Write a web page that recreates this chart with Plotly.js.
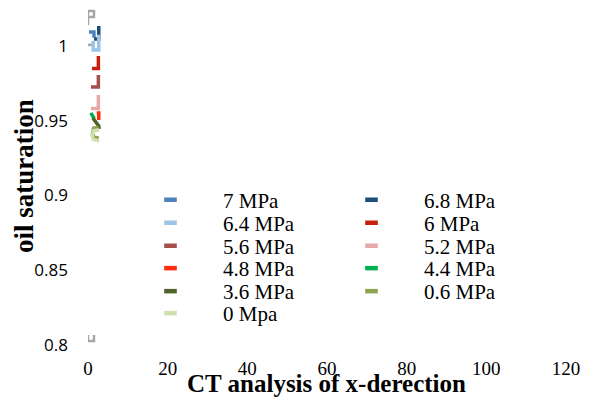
<!DOCTYPE html>
<html>
<head>
<meta charset="utf-8">
<script src="https://cdn.plot.ly/plotly-3.0.1.min.js"></script>
<style>html,body{margin:0;padding:0;background:#fff;}#chart{width:600px;height:401px;}</style>
</head>
<body>
<div id="chart"></div>
<script>
// ---------- data ----------
const seriesNames = ['7 MPa','6.8 MPa','6.4 MPa','6 MPa','5.6 MPa','5.2 MPa','4.8 MPa','4.4 MPa','3.6 MPa','0.6 MPa','0 Mpa'];

const x_7   = [0.25, 1.5, 1.5];            const y_7   = [1.0094, 1.0094, 1.0054];
const x_6_8 = [1.5, 2.7, 2.7];             const y_6_8 = [1.0047, 1.0047, 1.0134];
const x_6_4 = [1.3, 1.3, 2.7, 2.7];        const y_6_4 = [1.0033, 0.9973, 0.9973, 1.0074];
const x_6   = [1.0, 2.6, 2.6];             const y_6   = [0.9849, 0.9849, 0.9933];
const x_5_6 = [0.75, 2.6, 2.6];            const y_5_6 = [0.9726, 0.9726, 0.9806];
const x_5_2 = [0.75, 2.6, 2.6];            const y_5_2 = [0.9582, 0.9582, 0.9672];
const x_4_8 = [2.2, 2.7, 2.7];             const y_4_8 = [0.9552, 0.9552, 0.9505];
const x_4_4 = [0.7, 1.1, 1.6];             const y_4_4 = [0.9552, 0.9532, 0.9512];
const x_3_6 = [1.2, 2.0, 2.7, 2.8];        const y_3_6 = [0.9518, 0.9485, 0.9465, 0.9445];
const x_0_6 = [2.7, 1.4, 1.1, 1.4, 2.7];   const y_0_6 = [0.9455, 0.9450, 0.9415, 0.9390, 0.9385];
const x_0   = [2.8, 1.4, 1.0, 1.3, 2.8];   const y_0   = [0.9440, 0.9432, 0.9405, 0.9375, 0.9365];

// unlabeled grey series (not in legend)
const x_grey = [0, 0, 1.5, 1.5, 0, null, 0, 1.5, null, 0, 0, 1.5, 1.5];
const y_grey = [1.0140, 1.0234, 1.0234, 1.0194, 1.0194, null, 1.0007, 1.0007, null, 0.8067, 0.8027, 0.8027, 0.8067];

const xTickVals = [0, 20, 40, 60, 80, 100, 120];
const yTickVals = [0.8, 0.85, 0.9, 0.95, 1];
const yTickText = ['0.8', '0.85', '0.9', '0.95', '1'];

const xTitle = 'CT analysis of x-derection';
const yTitle = 'oil saturation';

// ---------- styles ----------
const seriesX = [x_7, x_6_8, x_6_4, x_6, x_5_6, x_5_2, x_4_8, x_4_4, x_3_6, x_0_6, x_0];
const seriesY = [y_7, y_6_8, y_6_4, y_6, y_5_6, y_5_2, y_4_8, y_4_4, y_3_6, y_0_6, y_0];
const colors = ['#4F81BD','#1F4E79','#9DC3E6','#C81E0F','#A5504B','#E6A8A8','#FF2D0D','#00B050','#4F6228','#8DA44E','#D0DFB0'];
const legendRowOf = [1,1,2,2,3,3,4,4,5,5,6];
const rowCenters = [200, 223, 246, 268.5, 291.5, 313.5];

const traces = [];
traces.push({x: x_grey, y: y_grey, mode: 'lines', connectgaps: false, showlegend: false,
  line: {color: '#A6A6A6', width: 2.5}, hoverinfo: 'skip'});
for (let i = 0; i < seriesNames.length; i++) {
  traces.push({x: seriesX[i], y: seriesY[i], mode: 'lines', name: seriesNames[i], showlegend: false,
    line: {color: colors[i], width: 3.5}});
}
for (let i = 0; i < seriesNames.length; i++) {
  const r = legendRowOf[i];
  traces.push({x: [null], y: [null], mode: 'markers', name: seriesNames[i],
    legend: r === 1 ? 'legend' : 'legend' + r,
    marker: {symbol: 'line-ew', size: 9, color: colors[i], line: {color: colors[i], width: 4.5}}});
}

function legendCfg(py) {
  return {orientation: 'h', xref: 'container', yref: 'container',
    x: 118 / 600, xanchor: 'left', y: 1 - py / 401, yanchor: 'middle',
    bgcolor: 'rgba(0,0,0,0)', borderwidth: 0,
    font: {family: 'Liberation Serif', size: 21, color: '#000'},
    itemwidth: 95, entrywidth: 91, entrywidthmode: 'pixels', tracegroupgap: 0};
}

const layout = {
  width: 600, height: 401,
  margin: {l: 88, r: 34, t: 9, b: 56, autoexpand: false},
  paper_bgcolor: '#fff', plot_bgcolor: '#fff',
  xaxis: {range: [0, 120], tickvals: xTickVals, showgrid: false, zeroline: false, showline: false, ticks: '',
    ticklabelstandoff: 10,
    tickfont: {family: 'Liberation Serif', size: 19, color: '#000'}},
  yaxis: {range: [0.8, 1.0247], tickvals: yTickVals, ticktext: yTickText, showgrid: false, zeroline: false,
    showline: false, ticks: '', ticklabelstandoff: 19,
    tickfont: {family: 'Open Sans', size: 17, color: '#000'}},
  annotations: [
    {text: xTitle, xref: 'paper', yref: 'paper', x: (326 - 88) / 478, y: (345 - 383) / 336,
      xanchor: 'center', yanchor: 'middle', showarrow: false,
      font: {family: 'Liberation Serif', size: 25, weight: 'bold', color: '#000'}},
    {text: yTitle, xref: 'paper', yref: 'paper', x: (24 - 88) / 478, y: (345 - 176) / 336,
      xanchor: 'center', yanchor: 'middle', textangle: -90, showarrow: false,
      font: {family: 'Liberation Serif', size: 27, weight: 'bold', color: '#000'}}
  ],
  showlegend: true
};
for (let r = 1; r <= 6; r++) {
  layout[r === 1 ? 'legend' : 'legend' + r] = legendCfg(rowCenters[r - 1]);
}

Plotly.newPlot('chart', traces, layout, {staticPlot: true, displayModeBar: false});
</script>
</body>
</html>
